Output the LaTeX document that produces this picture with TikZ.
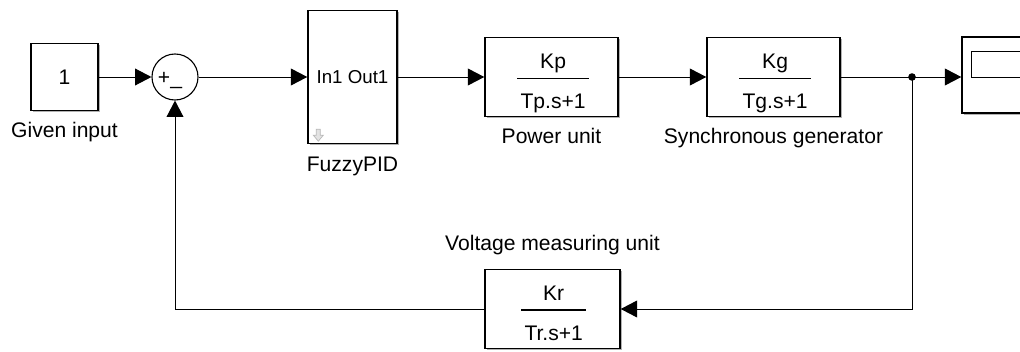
\documentclass[tikz,border=0pt]{standalone}
\usepackage{fontspec}
\setmainfont{Liberation Sans}
\usetikzlibrary{arrows.meta, calc, positioning, shadows}
\definecolor{simink}{HTML}{000000}
\definecolor{simicon}{HTML}{B8B8B8}
\tikzset{
  sim block/.style={draw=simink, fill=white, line width=1pt, inner sep=0pt,
    font=\fontsize{15}{18}\selectfont,
    drop shadow={shadow xshift=1.3pt, shadow yshift=-1.3pt,
      opacity=0.3, fill=black}},
  tf block/.style={minimum width=3.325cm, minimum height=1.975cm},
  sim sum/.style={circle, draw=simink, fill=white, line width=0.8pt,
    minimum size=1.15cm, inner sep=0pt},
  sum sign/.style={font=\fontsize{15}{18}\selectfont, inner sep=0pt},
  tap dot/.style={circle, fill=simink, inner sep=0pt, minimum size=0.19cm},
  sim wire/.style={draw=simink, line width=0.7pt},
  sim signal/.style={sim wire, -{Triangle[length=0.41cm, width=0.42cm]}},
  frac text/.style={font=\fontsize{15}{18}\selectfont, inner sep=0pt},
  frac rule/.style={draw=simink, line width=1pt},
  port text/.style={font=\fontsize{13.3}{16}\selectfont},
  block label/.style={font=\fontsize{15}{18}\selectfont, inner sep=0pt},
}

\begin{document}
\begin{tikzpicture}[x=1cm, y=1cm]
  \clip (0,0) rectangle (25.5,8.775);

  % Source and summing junction.
  \node[sim block, minimum width=1.675cm, minimum height=1.675cm]
    (given) at (1.6125,6.85) {1};
  \node[block label, anchor=base] (givenlbl)
    at ($(given.south)+(0,-0.65)$) {Given input};
  \node[sim sum] (sum) at (4.375,6.85) {};
  \node[sum sign, anchor=base] (sumsign)
    at ($(sum.center)+(-0.125,-0.2)$) {+\_};

  % Fuzzy PID subsystem.
  \node[sim block, port text, minimum width=2.225cm, minimum height=3.325cm]
    (fuzzy) at (8.8125,6.85) {In1 Out1};
  \node[block label, anchor=base] (fuzzylbl)
    at ($(fuzzy.south)+(0,-0.675)$) {FuzzyPID};
  \draw[draw=simicon, fill=simicon!40, line width=0.5pt]
    ($(fuzzy.south west)+(0.225,0.375)$) -- ++(0.1,0) -- ++(0,-0.15)
    -- ++(0.075,0) -- ++(-0.125,-0.15) -- ++(-0.125,0.15)
    -- ++(0.075,0) -- cycle;

  % Power unit.
  \node[sim block, tf block] (pwr) at (13.7875,6.85) {};
  \node[frac text, anchor=base] (pwrnum)
    at ($(pwr.center)+(0.04,0.2125)$) {Kp};
  \node[frac text, anchor=base] (pwrden)
    at ($(pwr.center)+(0.04,-0.79)$) {Tp.s+1};
  \draw[frac rule] ($(pwrden.west |- pwr.center)+(-0.08,-0.045)$)
    -- ($(pwrden.east |- pwr.center)+(0.08,-0.045)$);
  \node[block label, anchor=base] (pwrlbl)
    at ($(pwr.south)+(0,-0.65)$) {Power unit};

  % Synchronous generator.
  \node[sim block, tf block] (gen) at (19.3375,6.85) {};
  \node[frac text, anchor=base] (gennum)
    at ($(gen.center)+(0.04,0.2125)$) {Kg};
  \node[frac text, anchor=base] (genden)
    at ($(gen.center)+(0.04,-0.79)$) {Tg.s+1};
  \draw[frac rule] ($(genden.west |- gen.center)+(-0.08,-0.045)$)
    -- ($(genden.east |- gen.center)+(0.08,-0.045)$);
  \node[block label, anchor=base] (genlbl)
    at ($(gen.south)+(0,-0.65)$) {Synchronous generator};

  % Scope, cut by the right edge.
  \node[tap dot] (tap) at (22.8,6.85) {};
  \node[sim block, minimum width=2cm, minimum height=1.9cm]
    (scope) at (25.05,6.9) {};
  \draw[frac rule] ($(scope.north west)+(0.25,-0.375)$) rectangle ++(1.5,-0.65);

  % Voltage measuring unit in the feedback path.
  \node[sim block, minimum width=3.375cm, minimum height=1.975cm]
    (kr) at (13.8125,1.05) {};
  \node[frac text, anchor=base] (krnum)
    at ($(kr.center)+(0.03,0.2125)$) {Kr};
  \node[frac text, anchor=base] (krden)
    at ($(kr.center)+(0.03,-0.79)$) {Tr.s+1};
  \draw[frac rule] ($(krden.west |- kr.center)+(-0.08,-0.02)$)
    -- ($(krden.east |- kr.center)+(0.08,-0.02)$);
  \node[block label, anchor=base] (krlbl)
    at ($(kr.north)+(0,0.45)$) {Voltage measuring unit};

  % Signal lines.
  \draw[sim signal] (given.east) -- (sum.west);
  \draw[sim signal] (sum.east) -- (fuzzy.west);
  \draw[sim signal] (fuzzy.east) -- (pwr.west);
  \draw[sim signal] (pwr.east) -- (gen.west);
  \draw[sim wire] (gen.east) -- (tap.center);
  \draw[sim signal] (tap.center) -- (scope.west |- tap.center);
  \draw[sim signal] (tap.center) |- (kr.east);
  \draw[sim signal] (kr.west) -| (sum.south);
\end{tikzpicture}
\end{document}
